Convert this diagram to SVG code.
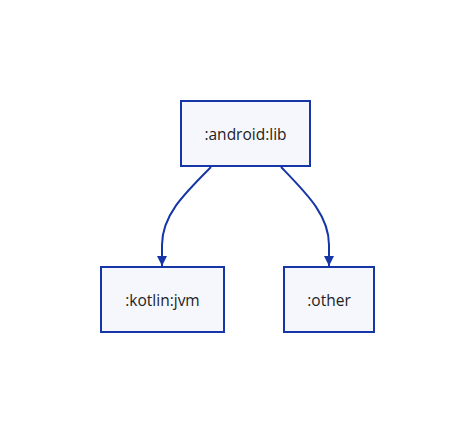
<svg xmlns="http://www.w3.org/2000/svg" width="475" height="434" viewBox="0 0 475 434">
<defs>
<marker id="arr" viewBox="0 0 10 10" refX="10" refY="5" markerWidth="10" markerHeight="10" markerUnits="userSpaceOnUse" orient="auto">
<path d="M0,0 L10,5 L0,10 z" fill="#1636a8"/>
</marker>
<style>
.node rect{fill:#f6f7fd;stroke:#1636a8;stroke-width:2}
.node text{font-family:"Open Sans","Noto Sans",sans-serif;font-size:15.5px;fill:#222;text-anchor:middle;dominant-baseline:central}
.edge{fill:none;stroke:#1636a8;stroke-width:2;marker-end:url(#arr)}
</style>
</defs>
<rect width="475" height="434" fill="#ffffff"/>
<g id="connectors">
<path class="edge" d="M211,167 C185,193 162,215 162,245 L162,266"/>
<path class="edge" d="M281,167 C306,193 329,215 329,245 L329,266"/>
</g>
<g id="android_lib" class="node">
<rect x="181" y="101" width="129" height="65"/>
<text x="245.5" y="133.5">:android:lib</text>
</g>
<g id="kotlin_jvm" class="node">
<rect x="101" y="267" width="123" height="65"/>
<text x="162.5" y="299.5">:kotlin:jvm</text>
</g>
<g id="other" class="node">
<rect x="284" y="267" width="90" height="65"/>
<text x="329" y="299.5">:other</text>
</g>
</svg>
